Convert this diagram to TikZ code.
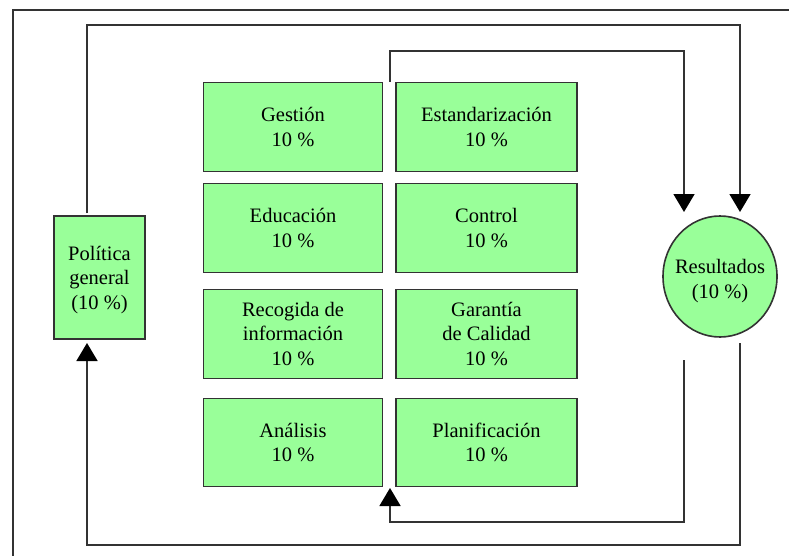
\documentclass[tikz,border=0pt]{standalone}
\usepackage{fontspec}
\setmainfont{Liberation Serif}
\usetikzlibrary{arrows.meta,shapes.geometric}
\definecolor{boxgreen}{HTML}{99FF99}
\definecolor{linegray}{HTML}{333333}
\tikzset{
  cell/.style={draw=linegray, line width=1.6pt, fill=boxgreen, minimum width=179pt, minimum height=89pt, inner sep=0pt, align=center, font=\fontsize{20.5}{24.5}\selectfont},
  lbl/.style={inner sep=0pt, align=center, font=\fontsize{20.5}{24.5}\selectfont},
  conn/.style={draw=linegray, line width=1.6pt},
  tip/.style={-{Triangle[width=21pt,length=18pt,color=black]}}
}
\begin{document}
\begin{tikzpicture}[x=1pt,y=-1pt]
\useasboundingbox (0,0) rectangle (789,556);
\fill[white] (0,0) rectangle (789,556);
% frame
\draw[conn] (13,560) -- (13,10) -- (795,10);
% boxes
\node[cell] (ges) at (293,127) {Gestión\\10 \%};
\node[cell, minimum width=181pt] (est) at (486.5,127) {Estandarización\\10 \%};
\node[cell] (edu) at (293,228) {Educación\\10 \%};
\node[cell, minimum width=181pt] (con) at (486.5,228) {Control\\10 \%};
\node[cell] (rec) at (293,334) {Recogida de\\información\\10 \%};
\node[cell, minimum width=181pt] (gar) at (486.5,334) {Garantía\\de Calidad\\10 \%};
\node[cell, minimum height=88pt] (ana) at (293,442.5) {Análisis\\10 \%};
\node[cell, minimum width=181pt, minimum height=88pt] (pla) at (486.5,442.5) {Planificación\\10 \%};
\node[cell, minimum width=91pt, minimum height=123pt] (pol) at (99.5,277.5) {};
\node[lbl] (pollbl) at ([yshift=-2.5pt]pol.center) {Política\\general\\(10 \%)};
\node[cell, ellipse, minimum width=114pt, minimum height=121pt] (res) at (720,276.5) {};
\node[lbl] (reslbl) at ([yshift=-4.5pt]res.center) {Resultados\\(10 \%)};
% coordinates
\coordinate (otA) at (87,213);
\coordinate (otB) at (740,25);
\coordinate (otC) at (740,212);
\coordinate (itA) at (390,82);
\coordinate (itB) at (684,51);
\coordinate (itC) at (684,212);
\coordinate (obA) at (740,343);
\coordinate (obB) at (87,545);
\coordinate (obC) at (87,343);
\coordinate (ibA) at (684,360);
\coordinate (ibB) at (390,522);
\coordinate (ibC) at (390,488);
% connectors
\draw[conn,tip] (otA) |- (otB) -- (otC);
\draw[conn,tip] (itA) |- (itB) -- (itC);
\draw[conn,tip] (obA) |- (obB) -- (obC);
\draw[conn,tip] (ibA) |- (ibB) -- (ibC);
\end{tikzpicture}
\end{document}
